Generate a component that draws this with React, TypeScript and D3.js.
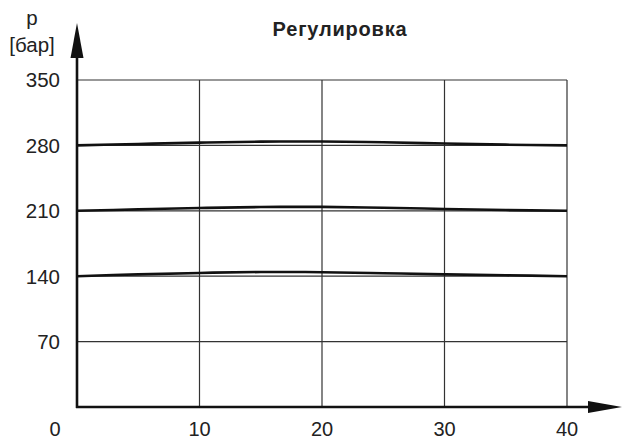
import * as d3 from 'd3';
import React, { useEffect, useRef } from 'react';

// x positions of the read points
const xValues = [0, 5, 10, 15, 20, 25, 30, 35, 40];

// pressure curves
const curve280 = [280, 281.5, 283, 284, 284.2, 283.3, 282, 280.8, 280];
const curve210 = [210, 211.5, 213, 214, 214.2, 213.3, 212, 210.8, 210];
const curve140 = [140, 142, 143.5, 144.5, 144.3, 143.2, 142, 141, 140];

const xTicks = [0, 10, 20, 30, 40];
const yTicks = [70, 140, 210, 280, 350];

const title = 'Регулировка';
const yLabel = ['p', '[бар]'];

const FONT = 'Liberation Sans, Arial, sans-serif';

export default function App() {
    const ref = useRef<SVGSVGElement>(null);

    useEffect(() => {
        const svg = d3.select(ref.current);
        svg.selectAll('*').remove();

        const x = d3.scaleLinear().domain([0, 40]).range([77, 567]);
        const y = d3.scaleLinear().domain([0, 350]).range([407, 80]);

        // grid
        const grid = svg.append('g')
            .attr('stroke', '#333')
            .attr('stroke-width', 1.2);

        grid.selectAll('line.v')
            .data(xTicks.filter((d) => d > 0))
            .enter()
            .append('line')
            .attr('x1', (d) => x(d))
            .attr('x2', (d) => x(d))
            .attr('y1', y(0))
            .attr('y2', y(350));

        grid.selectAll('line.h')
            .data(yTicks)
            .enter()
            .append('line')
            .attr('x1', x(0))
            .attr('x2', x(40))
            .attr('y1', (d) => y(d))
            .attr('y2', (d) => y(d));

        // curves
        const line = d3.line<number>()
            .x((d, i) => x(xValues[i]))
            .y((d) => y(d))
            .curve(d3.curveCatmullRom);

        svg.append('g')
            .selectAll('path')
            .data([curve280, curve210, curve140])
            .enter()
            .append('path')
            .attr('d', (d) => line(d))
            .attr('fill', 'none')
            .attr('stroke', '#111')
            .attr('stroke-width', 2.6);

        // axes with arrows
        const axes = svg.append('g')
            .attr('stroke', '#111')
            .attr('stroke-width', 2.6);

        axes.append('line')
            .attr('x1', x(0)).attr('x2', x(0))
            .attr('y1', y(0) + 1).attr('y2', 50);
        axes.append('line')
            .attr('x1', x(0) - 1).attr('x2', 595)
            .attr('y1', y(0)).attr('y2', y(0));

        svg.append('path')
            .attr('d', `M${x(0)},23 L${x(0) + 6.5},58 L${x(0) - 6.5},58 Z`)
            .attr('fill', '#111');
        svg.append('path')
            .attr('d', `M622,${y(0)} L588,${y(0) - 6} L588,${y(0) + 6} Z`)
            .attr('fill', '#111');

        // tick labels
        svg.append('g')
            .selectAll('text')
            .data(yTicks)
            .enter()
            .append('text')
            .attr('x', 60)
            .attr('y', (d) => y(d))
            .attr('dy', '0.36em')
            .attr('text-anchor', 'end')
            .attr('font-family', FONT)
            .attr('font-size', 20.5)
            .attr('fill', '#222')
            .text((d) => d);

        svg.append('g')
            .selectAll('text')
            .data(xTicks)
            .enter()
            .append('text')
            .attr('x', (d) => (d === 0 ? x(d) - 22 : x(d)))
            .attr('y', 436)
            .attr('text-anchor', 'middle')
            .attr('font-family', FONT)
            .attr('font-size', 20)
            .attr('fill', '#222')
            .text((d) => d);

        // y label
        svg.append('g')
            .selectAll('text')
            .data(yLabel)
            .enter()
            .append('text')
            .attr('x', 32)
            .attr('y', (d, i) => (i === 0 ? 25 : 52))
            .attr('text-anchor', 'middle')
            .attr('font-family', FONT)
            .attr('font-size', 20.5)
            .attr('fill', '#222')
            .text((d) => d);

        // title
        svg.append('text')
            .attr('x', 340)
            .attr('y', 36)
            .attr('text-anchor', 'middle')
            .attr('font-family', FONT)
            .attr('font-size', 20)
            .attr('font-weight', 'bold')
            .attr('letter-spacing', 0.8)
            .attr('fill', '#222')
            .text(title);
    }, []);

    return (
        <svg
            ref={ref}
            width={624}
            height={441}
            style={{ position: 'absolute', left: 0, top: 0, background: 'white' }}
        />
    );
}
